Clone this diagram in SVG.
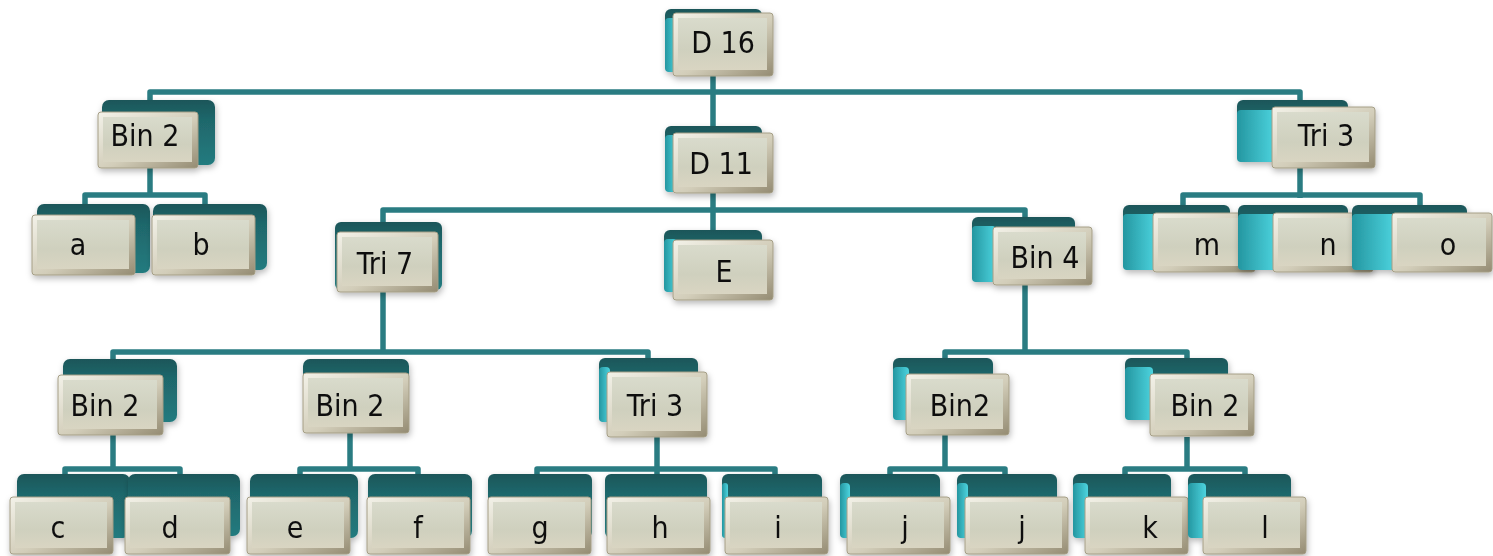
<svg xmlns="http://www.w3.org/2000/svg" width="1493" height="556" viewBox="0 0 1493 556">
  <defs>
    <linearGradient id="backGrad" x1="0" y1="0" x2="0" y2="1">
      <stop offset="0" stop-color="#1b5659"/>
      <stop offset="0.3" stop-color="#1f676b"/>
      <stop offset="1" stop-color="#237b7f"/>
    </linearGradient>
    <linearGradient id="sideGrad" x1="0" y1="0" x2="1" y2="0">
      <stop offset="0" stop-color="#2496a0"/>
      <stop offset="1" stop-color="#4cd3de"/>
    </linearGradient>
    <linearGradient id="bevelGrad" x1="0" y1="0" x2="1" y2="1">
      <stop offset="0" stop-color="#f3f2e9"/>
      <stop offset="0.55" stop-color="#d2cdb9"/>
      <stop offset="1" stop-color="#948b72"/>
    </linearGradient>
    <linearGradient id="faceGrad" x1="0" y1="0" x2="0" y2="1">
      <stop offset="0" stop-color="#d9dbcc"/>
      <stop offset="0.6" stop-color="#cfd0be"/>
      <stop offset="1" stop-color="#d9d5c2"/>
    </linearGradient>
    <filter id="shadow" x="-20%" y="-20%" width="140%" height="150%">
      <feDropShadow dx="1" dy="3" stdDeviation="3" flood-color="#000" flood-opacity="0.28"/>
    </filter>
  </defs>
  <style>
    .back { fill: url(#backGrad); }
    .side { fill: url(#sideGrad); }
    .bevel { fill: url(#bevelGrad); stroke: #a59e86; stroke-width: 1; }
    .face { fill: url(#faceGrad); }
    .node { filter: url(#shadow); }
    .label { font-family: "DejaVu Sans Condensed", "DejaVu Sans", sans-serif; font-size: 30px; fill: #111; text-anchor: middle; }
    .wire { fill: none; stroke: #2a7c82; stroke-width: 5.5; stroke-linejoin: round; stroke-linecap: butt; }
  </style>
  <rect width="1493" height="556" fill="#ffffff"/>

  <!-- connectors -->
  <g id="connectors">
    <path class="wire" d="M713,76 V130"/>
    <path class="wire" d="M150,108 V92 H1300 V108"/>
    <path class="wire" d="M150,165 V195"/>
    <path class="wire" d="M85,208 V195 H205 V208"/>
    <path class="wire" d="M713,192 V234"/>
    <path class="wire" d="M383,226 V210 H1025 V222"/>
    <path class="wire" d="M1300,168 V198"/>
    <path class="wire" d="M1183,209 V195 H1420 V209"/>
    <path class="wire" d="M383,292 V352"/>
    <path class="wire" d="M113,362 V352 H648 V362"/>
    <path class="wire" d="M1025,285 V352"/>
    <path class="wire" d="M945,362 V352 H1187 V362"/>
    <path class="wire" d="M113,435 V470"/>
    <path class="wire" d="M65,478 V469 H180 V478"/>
    <path class="wire" d="M350,432 V470"/>
    <path class="wire" d="M300,478 V469 H418 V478"/>
    <path class="wire" d="M657,437 V478"/>
    <path class="wire" d="M537,478 V469 H775 V478"/>
    <path class="wire" d="M945,435 V470"/>
    <path class="wire" d="M890,478 V469 H1005 V478"/>
    <path class="wire" d="M1187,437 V470"/>
    <path class="wire" d="M1125,478 V469 H1245 V478"/>
  </g>

  <!-- level 0 -->
  <g id="node-d16" class="node">
    <rect class="back" x="665" y="9" width="97" height="63" rx="6"/>
    <rect class="side" x="665" y="18" width="12" height="54" rx="4"/>
    <rect class="bevel" x="673" y="13" width="100" height="63" rx="3"/>
    <rect class="face" x="678" y="18" width="89" height="52"/>
    <text class="label" x="723" y="53">D 16</text>
  </g>

  <!-- level 1 -->
  <g id="node-bin2-top" class="node">
    <rect class="back" x="102" y="100" width="113" height="65" rx="7"/>
    <rect class="bevel" x="98" y="112" width="100" height="56" rx="3"/>
    <rect class="face" x="103" y="117" width="89" height="45"/>
    <text class="label" x="145" y="146">Bin 2</text>
  </g>
  <g id="node-d11" class="node">
    <rect class="back" x="665" y="126" width="97" height="66" rx="6"/>
    <rect class="side" x="665" y="135" width="12" height="57" rx="4"/>
    <rect class="bevel" x="673" y="133" width="100" height="60" rx="3"/>
    <rect class="face" x="678" y="138" width="89" height="49"/>
    <text class="label" x="721" y="174">D 11</text>
  </g>
  <g id="node-tri3-top" class="node">
    <rect class="back" x="1237" y="100" width="111" height="62" rx="6"/>
    <rect class="side" x="1237" y="110" width="38" height="52" rx="4"/>
    <rect class="bevel" x="1272" y="107" width="103" height="61" rx="3"/>
    <rect class="face" x="1277" y="112" width="92" height="50"/>
    <text class="label" x="1326" y="146">Tri 3</text>
  </g>

  <!-- level 2 -->
  <g id="node-a" class="node">
    <rect class="back" x="37" y="204" width="113" height="69" rx="7"/>
    <rect class="bevel" x="32" y="215" width="103" height="60" rx="3"/>
    <rect class="face" x="37" y="220" width="92" height="49"/>
    <text class="label" x="78" y="255">a</text>
  </g>
  <g id="node-b" class="node">
    <rect class="back" x="153" y="204" width="114" height="66" rx="7"/>
    <rect class="bevel" x="152" y="215" width="103" height="60" rx="3"/>
    <rect class="face" x="157" y="220" width="92" height="49"/>
    <text class="label" x="201" y="255">b</text>
  </g>
  <g id="node-tri7" class="node">
    <rect class="back" x="335" y="222" width="107" height="68" rx="6"/>
    <rect class="bevel" x="337" y="232" width="101" height="60" rx="3"/>
    <rect class="face" x="342" y="237" width="90" height="49"/>
    <text class="label" x="385" y="274">Tri 7</text>
  </g>
  <g id="node-e-upper" class="node">
    <rect class="back" x="664" y="230" width="98" height="62" rx="6"/>
    <rect class="side" x="664" y="239" width="13" height="53" rx="4"/>
    <rect class="bevel" x="673" y="240" width="100" height="60" rx="3"/>
    <rect class="face" x="678" y="245" width="89" height="49"/>
    <text class="label" x="724" y="282">E</text>
  </g>
  <g id="node-bin4" class="node">
    <rect class="back" x="972" y="217" width="103" height="65" rx="6"/>
    <rect class="side" x="972" y="226" width="24" height="56" rx="4"/>
    <rect class="bevel" x="993" y="227" width="99" height="58" rx="3"/>
    <rect class="face" x="998" y="232" width="88" height="47"/>
    <text class="label" x="1045" y="268">Bin 4</text>
  </g>
  <g id="node-m" class="node">
    <rect class="back" x="1123" y="205" width="107" height="65" rx="6"/>
    <rect class="side" x="1123" y="214" width="33" height="56" rx="4"/>
    <rect class="bevel" x="1153" y="213" width="102" height="59" rx="3"/>
    <rect class="face" x="1158" y="218" width="91" height="48"/>
    <text class="label" x="1207" y="255">m</text>
  </g>
  <g id="node-n" class="node">
    <rect class="back" x="1238" y="205" width="110" height="65" rx="6"/>
    <rect class="side" x="1238" y="214" width="38" height="56" rx="4"/>
    <rect class="bevel" x="1273" y="213" width="100" height="59" rx="3"/>
    <rect class="face" x="1278" y="218" width="89" height="48"/>
    <text class="label" x="1328" y="255">n</text>
  </g>
  <g id="node-o" class="node">
    <rect class="back" x="1352" y="205" width="115" height="65" rx="6"/>
    <rect class="side" x="1352" y="214" width="43" height="56" rx="4"/>
    <rect class="bevel" x="1392" y="213" width="100" height="59" rx="3"/>
    <rect class="face" x="1397" y="218" width="89" height="48"/>
    <text class="label" x="1448" y="255">o</text>
  </g>

  <!-- level 3 -->
  <g id="node-bin2-cd" class="node">
    <rect class="back" x="63" y="359" width="114" height="63" rx="7"/>
    <rect class="bevel" x="58" y="375" width="105" height="60" rx="3"/>
    <rect class="face" x="63" y="380" width="94" height="49"/>
    <text class="label" x="105" y="416">Bin 2</text>
  </g>
  <g id="node-bin2-ef" class="node">
    <rect class="back" x="303" y="359" width="106" height="62" rx="7"/>
    <rect class="bevel" x="303" y="373" width="106" height="60" rx="3"/>
    <rect class="face" x="308" y="378" width="95" height="49"/>
    <text class="label" x="350" y="416">Bin 2</text>
  </g>
  <g id="node-tri3-ghi" class="node">
    <rect class="back" x="599" y="358" width="99" height="64" rx="6"/>
    <rect class="side" x="599" y="367" width="11" height="55" rx="4"/>
    <rect class="bevel" x="607" y="372" width="100" height="65" rx="3"/>
    <rect class="face" x="612" y="377" width="89" height="54"/>
    <text class="label" x="655" y="416">Tri 3</text>
  </g>
  <g id="node-bin2-jj" class="node">
    <rect class="back" x="893" y="358" width="100" height="62" rx="6"/>
    <rect class="side" x="893" y="367" width="16" height="53" rx="4"/>
    <rect class="bevel" x="906" y="374" width="103" height="61" rx="3"/>
    <rect class="face" x="911" y="379" width="92" height="50"/>
    <text class="label" x="960" y="416">Bin2</text>
  </g>
  <g id="node-bin2-kl" class="node">
    <rect class="back" x="1125" y="358" width="103" height="62" rx="6"/>
    <rect class="side" x="1125" y="367" width="28" height="53" rx="4"/>
    <rect class="bevel" x="1150" y="374" width="104" height="62" rx="3"/>
    <rect class="face" x="1155" y="379" width="93" height="51"/>
    <text class="label" x="1205" y="416">Bin 2</text>
  </g>

  <!-- level 4 -->
  <g id="node-c" class="node">
    <rect class="back" x="17" y="474" width="113" height="64" rx="7"/>
    <rect class="bevel" x="10" y="497" width="103" height="57" rx="3"/>
    <rect class="face" x="15" y="502" width="92" height="46"/>
    <text class="label" x="58" y="538">c</text>
  </g>
  <g id="node-d" class="node">
    <rect class="back" x="128" y="474" width="112" height="62" rx="7"/>
    <rect class="bevel" x="125" y="497" width="105" height="57" rx="3"/>
    <rect class="face" x="130" y="502" width="94" height="46"/>
    <text class="label" x="170" y="538">d</text>
  </g>
  <g id="node-e" class="node">
    <rect class="back" x="250" y="474" width="108" height="64" rx="7"/>
    <rect class="bevel" x="247" y="497" width="103" height="57" rx="3"/>
    <rect class="face" x="252" y="502" width="92" height="46"/>
    <text class="label" x="295" y="538">e</text>
  </g>
  <g id="node-f" class="node">
    <rect class="back" x="368" y="474" width="104" height="64" rx="7"/>
    <rect class="bevel" x="367" y="497" width="103" height="57" rx="3"/>
    <rect class="face" x="372" y="502" width="92" height="46"/>
    <text class="label" x="418" y="538">f</text>
  </g>
  <g id="node-g" class="node">
    <rect class="back" x="488" y="474" width="104" height="64" rx="6"/>
    <rect class="bevel" x="488" y="497" width="103" height="57" rx="3"/>
    <rect class="face" x="493" y="502" width="92" height="46"/>
    <text class="label" x="540" y="538">g</text>
  </g>
  <g id="node-h" class="node">
    <rect class="back" x="605" y="474" width="102" height="64" rx="6"/>
    <rect class="bevel" x="607" y="497" width="103" height="57" rx="3"/>
    <rect class="face" x="612" y="502" width="92" height="46"/>
    <text class="label" x="660" y="538">h</text>
  </g>
  <g id="node-i" class="node">
    <rect class="back" x="722" y="474" width="100" height="64" rx="6"/>
    <rect class="side" x="722" y="483" width="6" height="55" rx="3"/>
    <rect class="bevel" x="725" y="497" width="103" height="57" rx="3"/>
    <rect class="face" x="730" y="502" width="92" height="46"/>
    <text class="label" x="778" y="538">i</text>
  </g>
  <g id="node-j1" class="node">
    <rect class="back" x="840" y="474" width="100" height="64" rx="6"/>
    <rect class="side" x="840" y="483" width="10" height="55" rx="4"/>
    <rect class="bevel" x="847" y="497" width="103" height="57" rx="3"/>
    <rect class="face" x="852" y="502" width="92" height="46"/>
    <text class="label" x="905" y="538">j</text>
  </g>
  <g id="node-j2" class="node">
    <rect class="back" x="957" y="474" width="100" height="64" rx="6"/>
    <rect class="side" x="957" y="483" width="11" height="55" rx="4"/>
    <rect class="bevel" x="965" y="497" width="103" height="57" rx="3"/>
    <rect class="face" x="970" y="502" width="92" height="46"/>
    <text class="label" x="1022" y="538">j</text>
  </g>
  <g id="node-k" class="node">
    <rect class="back" x="1073" y="474" width="98" height="64" rx="6"/>
    <rect class="side" x="1073" y="483" width="15" height="55" rx="4"/>
    <rect class="bevel" x="1085" y="497" width="103" height="57" rx="3"/>
    <rect class="face" x="1090" y="502" width="92" height="46"/>
    <text class="label" x="1150" y="538">k</text>
  </g>
  <g id="node-l" class="node">
    <rect class="back" x="1188" y="474" width="103" height="64" rx="6"/>
    <rect class="side" x="1188" y="483" width="18" height="55" rx="4"/>
    <rect class="bevel" x="1203" y="497" width="103" height="57" rx="3"/>
    <rect class="face" x="1208" y="502" width="92" height="46"/>
    <text class="label" x="1265" y="538">l</text>
  </g>
</svg>
